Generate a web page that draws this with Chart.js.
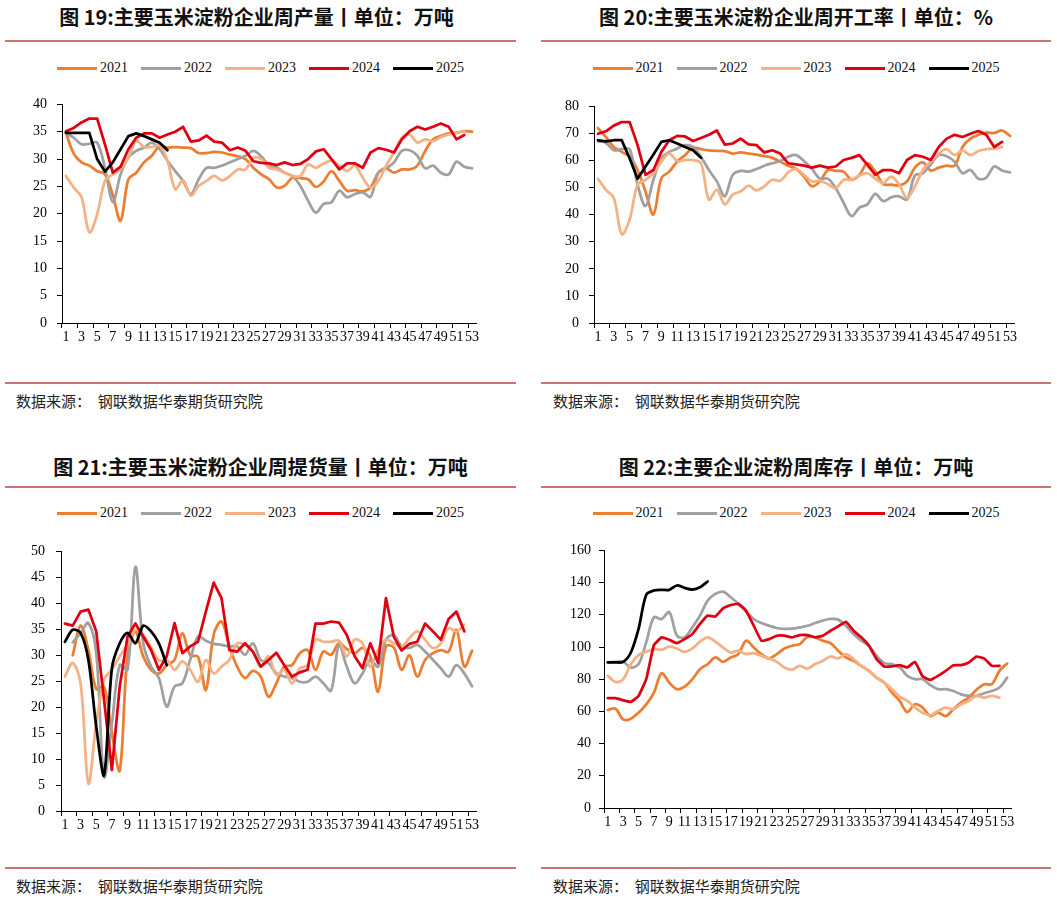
<!DOCTYPE html>
<html>
<head>
<meta charset="utf-8">
<script src="https://cdn.jsdelivr.net/npm/chart.js@4/dist/chart.umd.min.js"></script>
<style>
  html, body { margin: 0; padding: 0; background: #fff; }
  body { width: 1057px; height: 899px; position: relative; overflow: hidden; }
  .title { position: absolute; text-align: center; font-family: "Noto Sans CJK SC", sans-serif; font-weight: bold; font-size: 20px; line-height: 24px; color: #111; white-space: nowrap; }
  .rule { position: absolute; height: 2px; background: #cc7474; }
  .legend { position: absolute; display: flex; justify-content: center; align-items: center; height: 16px; font-family: "Liberation Serif", "Times New Roman", serif; font-size: 14px; color: #111; }
  .legend .item { display: flex; align-items: center; margin: 0 6.5px; }
  .legend .sw { width: 40px; height: 3px; margin-right: 3px; }
  .src { position: absolute; font-family: "Noto Sans CJK SC", sans-serif; font-size: 15px; line-height: 20px; color: #222; white-space: pre; }
  canvas { position: absolute; }
</style>
</head>
<body>
<script>
// ---------- categories / tick labels ----------
const weekLabels = ['1','2','3','4','5','6','7','8','9','10','11','12','13','14','15','16','17','18','19','20','21','22','23','24','25','26','27','28','29','30','31','32','33','34','35','36','37','38','39','40','41','42','43','44','45','46','47','48','49','50','51','52','53'];
const seriesNames = ['2021','2022','2023','2024','2025'];

// ---------- 图19 周产量 (万吨) ----------
const prod2021 = [34.8,31,29.4,28.8,27.8,27.2,23.4,18.7,26.3,27.5,29.4,30.6,32.4,32.1,32.2,32.1,32,31.1,31.1,31.3,31.2,30.8,30.5,30,28.4,27.2,26.3,24.8,25.1,26.6,26.5,26.3,24.9,25.9,27.8,26,24.2,24.3,24.1,24.8,27.5,28.3,27.5,28.1,28.1,28.8,31.5,33.6,34.2,34.7,34.8,35.1,35];
const prod2022 = [34.8,33.9,32.7,32.8,33,28.4,22.1,27.2,30.3,31.5,32.1,33,31.8,29.7,27.8,26,23.6,26.3,28.4,28.4,28.8,29.4,30,30.6,31.5,30.5,28.8,28.4,27.5,26.9,25.1,22.4,20.2,21.8,22.1,24.2,23,23.6,23.9,23.1,27.5,28.3,29.4,31.5,31.6,30.6,28.3,28.8,27.5,27.2,29.5,28.6,28.3];
const prod2023 = [26.9,24.8,23,16.6,19.9,26,27.2,28.1,30.3,33.3,32.2,32.2,32.5,29.7,24.5,26.1,23.3,25.1,26,26.9,26.1,26.9,28.1,28.1,30.2,30,28.4,28.1,27.5,26.9,26.9,29,28.4,29.2,29.7,28.8,27.8,28.8,26.6,24.8,26,28.8,31.2,33.9,34.5,33,33.6,33.3,34,34.5,34.8,35.1];
const prod2024 = [35.1,35.7,36.7,37.4,37.4,32.7,27.5,28.6,31.8,33.9,34.7,34.7,33.9,34.5,35,35.9,33.2,33.4,34.3,33.2,33,31.6,32.1,31.5,29.6,29.3,29.2,28.9,29.4,28.9,29.1,30,31.4,31.8,30,28.1,29.2,29.2,28.4,31.2,32,31.7,31.2,33.6,35.1,35.9,35.4,35.9,36.5,35.9,33.6,34.4];
const prod2025 = [34.8,34.8,34.8,34.8,30,27.7,29.4,31.8,34.2,34.7,34.2,33.6,33,31.6];

// ---------- 图20 周开工率 (%) ----------
const rate2021 = [72,68.7,65,63.2,61.4,56.5,48.6,40.1,53.5,55.9,59.6,62,64.7,64.2,63.8,63.6,63.5,62.6,63,62.6,62.2,61.6,61,59.6,58.1,56.9,54.1,50.5,52.3,56.5,56.2,55.9,52.9,54.7,59,55.9,51.3,51.1,50.8,52.3,57.4,59.3,56.3,57.4,58.1,58.1,65,68.1,69.5,70.3,70.2,71.1,69.1];
const rate2022 = [67.1,66.6,63.8,64.2,64.2,51.1,43.2,52.9,60.8,63.2,64.4,65.7,65,61.4,56.5,52.3,46.8,54.7,56.2,55.9,56.9,58.1,59,59.8,61.4,62,59.8,56.9,53.3,53.3,49.8,44.4,39.5,42.6,43.8,47.7,45,46.4,46.8,45.6,54.5,55.3,58.6,62,61.6,59.6,55.3,56.5,53.3,53.7,57.8,56.3,55.6];
const rate2023 = [53.3,49.2,46.2,32.8,38.3,51.1,52.9,55.3,59.6,62.6,59.8,60.2,60.2,59,45.6,49.2,43.8,47.4,48.6,50.7,49,50.5,52.9,52.5,55.6,56.9,54.7,52.3,52.5,51.3,49.8,52.9,52.9,54.5,55.3,53.3,51.7,54.1,51.1,46.2,50.5,56.5,59.6,62.6,64.2,62,63.8,62,63.5,64.2,64.4,65];
const rate2024 = [69.9,70.8,72.9,74.2,74.2,65.7,54.7,56.5,63.2,67.5,69.1,68.9,67.2,68.3,69.5,71.1,65.9,66.3,68.1,66,65.7,63,63.8,62.6,59,58.6,58.1,57.4,58.1,57.4,57.8,60.2,61,62,58.4,54.7,56.5,56.5,55.3,60.2,62,61.4,60.2,65,68.1,69.5,68.7,69.9,70.9,69.5,65,66.9];
const rate2025 = [67.5,67.1,67.5,67.5,60.8,53.3,57.8,62.2,66.9,67.5,66.3,65,63.8,61];

// ---------- 图21 周提货量 (万吨) ----------
const ship2021 = [null,30,35.7,31,23.5,24,15,7.8,30,34.5,29.8,27.2,26.5,28.1,29.1,34.2,30,29.7,23.3,34,36.5,31.7,27.8,25.6,27,25.9,22,24.6,27.8,28.1,30.4,31,27.2,30.7,30.1,32.3,31.2,30.4,31.4,29.8,23,31.7,31.5,27.2,30,25.9,29.1,30.4,31,30.7,34.9,27.8,30.9];
const ship2022 = [null,32.5,34.3,36.2,30.4,6.6,16.9,28.1,27.2,47,32.3,27.8,25.6,20.1,24,24.6,29.1,33.6,32.8,32.2,32,31.7,31.7,30.1,32.3,29.1,28.5,26.5,25.9,25.6,24.9,24.9,25.9,24.6,23.2,32,27.8,24.6,26.5,29.1,27.8,33,33.9,31.7,31.4,32,30.7,29.1,27.5,25.9,28.1,26.5,24];
const ship2023 = [25.9,28.5,24.6,5.3,16.9,25.3,27.2,29.8,32,34.9,33.9,31.5,29,29.1,27.2,28.8,27.2,24.9,29.1,26.5,27.8,29.1,32.3,32,30.8,27.8,29.8,26.2,27.2,24.6,27.5,28.1,33,32.6,32.6,32.8,29.8,33,32.3,27.8,31,33,32.3,31.7,33.3,34.6,33,31.4,32.3,35.2,34.6,35.9];
const ship2024 = [36.1,35.7,38.4,38.8,34.6,21.4,7.9,24,33.6,36.1,33.6,31,27.2,29.8,36.2,30.4,31.7,32.6,38.4,44,41,31,30.7,32.3,30.7,27.8,29.1,30.5,28.1,25.9,26.7,27.2,36.1,36.1,36.5,36.3,33.9,29.8,27.5,32.3,28.5,41,33.6,30.9,32.2,32.6,36.1,34.6,33,37,38.4,34.6];
const ship2025 = [32.6,34.9,34.3,29.1,16.3,6.9,27.5,32.3,34.3,32.3,35.7,34.6,32.3,28.1];

// ---------- 图22 周库存 (万吨) ----------
const stock2021 = [60.9,61.7,55,55.5,59.2,64.4,71.7,83.7,77.9,73.8,75.4,80,86.2,89.4,93.5,90.8,93.5,95.6,103.9,99.7,95.6,92.9,95.6,99.1,100.8,101.8,106.4,106,103.9,102.4,97.7,93.5,91.4,88.3,85.2,81,77.9,71.7,66.5,59.6,64.4,62.3,57.1,59.2,57.1,61.3,65.5,68.6,73.4,76.9,76.9,85.2,89.8];
const stock2022 = [90.4,90.8,90.8,87.3,89.4,102.9,118.4,117.4,121.6,107,106,112.2,119.5,128.8,133,134.4,130.9,126.8,122,117.4,114.9,113.2,111.8,111.2,111.4,112.2,113.2,114.9,116.4,117.4,117,113.2,108,103.9,100.8,94.5,90,89.4,87.3,82.1,80,80,76.3,73.8,73.8,72.7,70.6,69.6,69.6,71.3,72.7,74.8,81];
const stock2023 = [82.1,78.3,80,89.4,95,97,98.7,98.3,100.2,99.1,97,99.1,103.3,106,103.3,99.7,96.6,97.7,95.6,96.2,94.5,92.9,90.8,87.3,86,88.3,86.6,89.4,91.4,94.1,92.9,95.6,92.5,88.3,85.2,81,77.9,73.8,69.2,66.5,62.3,59.2,57.6,60.3,62.3,61.3,64.4,66.5,69.6,68.6,69.6,68.6];
const stock2024 = [68.2,68.2,66.9,65.9,69.6,80,101.2,106,104.5,102.4,104.9,108,114.3,119.5,118.9,124,126.1,126.8,122.6,113.2,103.9,104.9,107,107,106,107.4,107.4,106,107,110.1,112.8,115.7,110.1,106,100.8,92.5,87.9,87.9,88.7,87.3,90.8,81.7,79.6,82.1,85.2,88.7,88.7,90.4,94.1,92.9,88.3,88.3];
const stock2025 = [90.4,90.4,90.8,96.6,111.2,132.4,135.1,135.5,135.5,138.2,136.7,135.7,137.1,140.7];

// ---------- styling ----------
const COLORS = ['#ED7D31', '#A0A0A0', '#F4B183', '#E00012', '#000000'];
const TICK_FONT = { family: '"Liberation Serif", "Times New Roman", serif', size: 14 };

const panels = [
  { title: '图 19:主要玉米淀粉企业周产量丨单位：万吨', left: 5, width: 511, top: 0, legendTop: 60, ruleTop: 40, ruleBottom: 382, srcTop: 391, srcLeft: 16, titleShift: -4,
    canvas: { left: 12, top: 86, width: 474, height: 267 }, yPad: 10, yMax: 40, step: 5,
    series: [prod2021, prod2022, prod2023, prod2024, prod2025], tens: [0.35, 0.35, 0.35, 0, 0] },
  { title: '图 20:主要玉米淀粉企业周开工率丨单位：%', left: 541, width: 510, top: 0, legendTop: 60, ruleTop: 40, ruleBottom: 382, srcTop: 391, srcLeft: 553, titleShift: 0,
    canvas: { left: 544, top: 88, width: 480, height: 265 }, yPad: 10, yMax: 80, step: 10,
    series: [rate2021, rate2022, rate2023, rate2024, rate2025], tens: [0.35, 0.35, 0.35, 0, 0] },
  { title: '图 21:主要玉米淀粉企业周提货量丨单位：万吨', left: 5, width: 511, top: 450, legendTop: 505, ruleTop: 486, ruleBottom: 867, srcTop: 876, srcLeft: 16, titleShift: 0,
    canvas: { left: 11, top: 532, width: 475, height: 309 }, yPad: 11, yMax: 50, step: 5,
    series: [ship2021, ship2022, ship2023, ship2024, ship2025], tens: [0.35, 0.35, 0.35, 0, 0.3] },
  { title: '图 22:主要企业淀粉周库存丨单位：万吨', left: 541, width: 510, top: 450, legendTop: 505, ruleTop: 486, ruleBottom: 867, srcTop: 876, srcLeft: 553, titleShift: 0,
    canvas: { left: 554, top: 534, width: 467, height: 304 }, yPad: 8, yMax: 160, step: 20,
    series: [stock2021, stock2022, stock2023, stock2024, stock2025], tens: [0.35, 0.35, 0.35, 0.1, 0.3] }
];

function el(tag, cls, style, text) {
  const e = document.createElement(tag);
  if (cls) e.className = cls;
  Object.assign(e.style, style || {});
  if (text !== undefined) e.textContent = text;
  document.body.appendChild(e);
  return e;
}

panels.forEach((p) => {
  el('div', 'title', { left: (p.left + p.titleShift) + 'px', width: p.width + 'px', top: (p.top + 5) + 'px' }, p.title);
  el('div', 'rule', { left: p.left + 'px', width: p.width + 'px', top: p.ruleTop + 'px' });
  el('div', 'rule', { left: p.left + 'px', width: p.width + 'px', top: p.ruleBottom + 'px' });
  el('div', 'src', { left: p.srcLeft + 'px', top: p.srcTop + 'px' }, '数据来源：  钢联数据华泰期货研究院');
  const lg = el('div', 'legend', { left: p.left + 'px', width: p.width + 'px', top: p.legendTop + 'px' });
  seriesNames.forEach((n, i) => {
    const it = document.createElement('div'); it.className = 'item';
    const sw = document.createElement('div'); sw.className = 'sw'; sw.style.background = COLORS[i];
    const tx = document.createElement('span'); tx.textContent = n;
    it.appendChild(sw); it.appendChild(tx); lg.appendChild(it);
  });

  const cv = el('canvas', null, { left: p.canvas.left + 'px', top: p.canvas.top + 'px', width: p.canvas.width + 'px', height: p.canvas.height + 'px' });
  cv.width = p.canvas.width; cv.height = p.canvas.height;

  const datasets = p.series.map((d, i) => ({
    label: seriesNames[i], data: d, borderColor: COLORS[i], backgroundColor: COLORS[i],
    borderWidth: 2.75, pointRadius: 0, tension: p.tens[i], fill: false, spanGaps: false, order: 5 - i,
    borderCapStyle: 'round', borderJoinStyle: 'round'
  }));

  new Chart(cv, {
    type: 'line',
    data: { labels: weekLabels, datasets },
    options: {
      responsive: false, animation: false, devicePixelRatio: 1,
      layout: { padding: { top: 10, right: 10, left: 0, bottom: 0 } },
      plugins: { legend: { display: false }, tooltip: { enabled: false } },
      scales: {
        x: {
          type: 'category', offset: true,
          grid: { offset: true, drawOnChartArea: false, drawTicks: true, tickLength: 5, lineWidth: 1,
                  tickColor: ctx => (ctx.index !== undefined && ctx.index % 2 === 0) ? '#000' : 'rgba(0,0,0,0)' },
          border: { display: true, color: '#000', width: 1 },
          ticks: { autoSkip: false, maxRotation: 0, minRotation: 0, padding: 1, font: TICK_FONT, color: '#000',
                   callback: function (v, i) { return i % 2 === 0 ? this.getLabelForValue(v) : ''; } },
          afterFit: s => { s.height = 30; }
        },
        y: {
          min: 0, max: p.yMax,
          ticks: { stepSize: p.step, padding: p.yPad, font: TICK_FONT, color: '#000' },
          grid: { drawOnChartArea: false, drawTicks: true, tickLength: 5, tickColor: '#000' },
          border: { display: true, color: '#000', width: 1 },
          afterFit: s => { s.width = 50; }
        }
      }
    }
  });
});
</script>
</body>
</html>
